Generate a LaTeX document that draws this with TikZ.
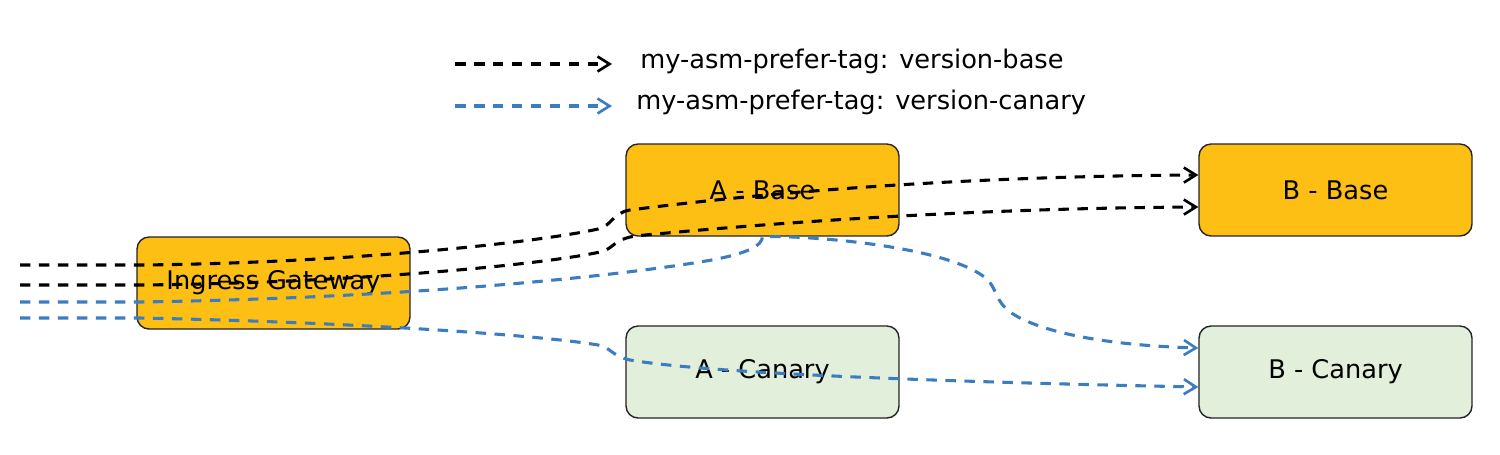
\documentclass[tikz,border=0pt]{standalone}
\usepackage{fontspec}
\setmainfont{DejaVu Sans}
\usepackage{tikz}
\usetikzlibrary{positioning,arrows.meta,calc}
\definecolor{gwgold}{RGB}{253,191,20}
\definecolor{canarygreen}{RGB}{226,239,218}
\definecolor{canaryblue}{RGB}{59,125,192}
\definecolor{boxedge}{RGB}{35,35,35}

\begin{document}
\begin{tikzpicture}[
  x=0.02cm,y=-0.02cm,
  svc/.style={rectangle,draw=boxedge,line width=0.8pt,rounded corners=0.24cm,minimum width=5.46cm,minimum height=1.84cm,inner sep=0pt,font=\fontsize{14.6}{17}\selectfont,text=black},
  basesvc/.style={svc,fill=gwgold},
  canarysvc/.style={svc,fill=canarygreen},
  legendtext/.style={anchor=west,font=\fontsize{14.6}{17}\selectfont,text=black,inner sep=0pt},
  basepath/.style={-{Straight Barb[length=0.24cm,width=0.3cm,line width=1.5pt]},black,line width=1.75pt,dash pattern=on 0.21cm off 0.17cm},
  canarypath/.style={basepath,canaryblue}
]
\useasboundingbox[fill=white] (0,0) rectangle (1500,454);

\node[basesvc] (IG) at (273.5,283) {Ingress Gateway};
\node[basesvc] (AB) at (762.5,190) {A - Base};
\node[canarysvc] (AC) at (762.5,372) {A - Canary};
\node[basesvc] (BB) at (1335.5,190) {B - Base};
\node[canarysvc] (BC) at (1335.5,372) {B - Canary};

\coordinate (K0) at (455,64);
\coordinate (K1) at (612,64);
\coordinate (C0) at (455,106);
\coordinate (C1) at (612,106);
\draw[basepath] (K0) -- (K1);
\draw[canarypath] (C0) -- (C1);
\node[legendtext] (KL) at (640,61) {my-asm-prefer-tag: version-base};
\node[legendtext] (CL) at (636,102) {my-asm-prefer-tag: version-canary};

\coordinate (in1) at (20,265);
\coordinate (in2) at (20,285);
\coordinate (in3) at (20,302);
\coordinate (in4) at (20,318);

\draw[basepath] (in1) -- (140,265) .. controls (350,263) and (540,242) .. (598,229)
  .. controls (612,226) and (612,213) .. (630,210)
  .. controls (800,188) and (1000,176) .. ($(BB.west)+(0,-15)$);
\draw[basepath] (in2) -- (140,285) .. controls (350,283) and (540,265) .. (600,252)
  .. controls (614,249) and (612,240) .. (635,236)
  .. controls (800,220) and (1000,208) .. ($(BB.west)+(0,17)$);
\draw[canarypath] (in3) -- (140,302) .. controls (400,298) and (600,278) .. (700,262)
  .. controls (750,254) and (762,245) .. (AB.south)
  .. controls (800,235) and (950,245) .. (988,280)
  .. controls (1000,295) and (995,305) .. (1020,318)
  .. controls (1060,338) and (1130,346) .. ($(BC.west)+(0,-24)$);
\draw[canarypath] (in4) -- (140,318) .. controls (350,322) and (540,335) .. (598,345)
  .. controls (612,348) and (610,355) .. (630,360)
  .. controls (700,372) and (900,381) .. ($(BC.west)+(0,15)$);

\end{tikzpicture}
\end{document}
